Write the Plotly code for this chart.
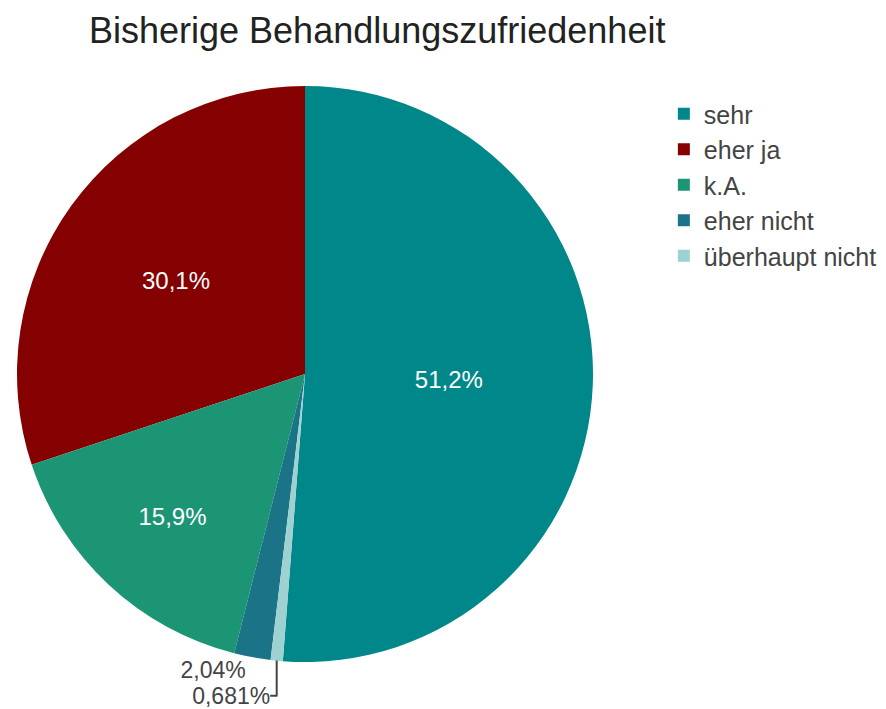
import plotly.graph_objects as go

categories = ["sehr", "eher ja", "k.A.", "eher nicht", "überhaupt nicht"]
counts = [752, 442, 234, 30, 10]
colors = ["#00878A", "#850000", "#1C9574", "#1A7386", "#9ED1D1"]
title_text = "Bisherige Behandlungszufriedenheit"

fig = go.Figure(
    go.Pie(
        labels=categories,
        values=counts,
        sort=True,
        direction="counterclockwise",
        rotation=0,
        marker=dict(colors=colors, line=dict(width=0)),
        textinfo="percent",
        insidetextorientation="horizontal",
        insidetextfont=dict(color="white", size=24),
        outsidetextfont=dict(color="#444", size=23),
        textfont=dict(family="Arial, Liberation Sans, sans-serif", size=24),
        domain=dict(x=[0, 1], y=[0, 1]),
    )
)

fig.update_layout(
    width=886,
    height=709,
    separators=",.",
    font=dict(family="Arial, Liberation Sans, sans-serif", color="#444"),
    paper_bgcolor="white",
    plot_bgcolor="white",
    margin=dict(l=9, r=301, t=78, b=55, autoexpand=False),
    title=dict(
        text=title_text,
        x=81 / 886,
        xref="container",
        xanchor="left",
        y=1 - 22 / 709,
        yref="container",
        yanchor="middle",
        font=dict(size=36, color="#222"),
    ),
    legend=dict(
        x=1.123,
        xanchor="left",
        y=1.0 - 5 / 576,
        yanchor="top",
        font=dict(size=25, color="#444"),
        tracegroupgap=0,
    ),
)

fig.write_html("out.html")
